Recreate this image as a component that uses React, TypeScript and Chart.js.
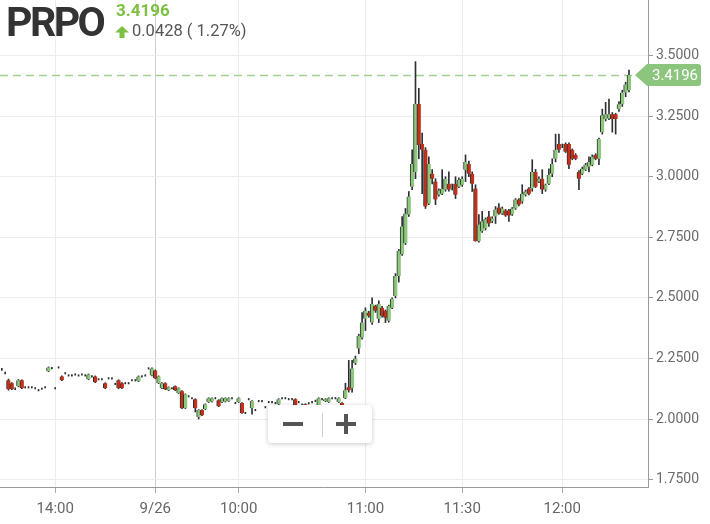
import React, { useEffect, useRef } from "react";
import { Chart, registerables } from "chart.js";

Chart.register(...registerables);

// ---- data (bar index = one trading bar) ----
const opens = [
  2.205, 2.190, 2.160, 2.148, 2.125, 2.135, 2.160, 2.131, 2.131, 2.131,
  2.127, 2.119, 2.125, 2.131, 2.197, 2.210, 2.127, 2.213, 2.176, 2.189,
  2.180, 2.180, 2.184, 2.180, 2.184, 2.180, 2.164, 2.176, 2.176, 2.164,
  2.164, 2.148, 2.168, 2.168, 2.145, 2.160, 2.148, 2.148, 2.148, 2.160,
  2.160, 2.156, 2.176, 2.180, 2.209, 2.180, 2.200, 2.148, 2.127, 2.148,
  2.119, 2.127, 2.135, 2.107, 2.115, 2.045, 2.094, 2.086, 2.082, 2.008,
  2.037, 2.041, 2.070, 2.072, 2.086, 2.078, 2.070, 2.072, 2.074, 2.086,
  2.066, 2.070, 2.066, 2.025, 2.082, 2.045, 2.037, 2.074, 2.074, 2.049,
  2.070, 2.070, 2.066, 2.061, 2.086, 2.086, 2.082, 2.082, 2.082, 2.070,
  2.060, 2.061, 2.065, 2.070, 2.075, 2.053, 2.082, 2.074, 2.070, 2.086,
  2.086, 2.070, 2.066, 2.086, 2.131, 2.127, 2.230, 2.291, 2.336, 2.414,
  2.439, 2.398, 2.467, 2.414, 2.459, 2.447, 2.406, 2.459, 2.508, 2.590,
  2.680, 2.725, 2.844, 2.959, 3.020, 3.300, 3.135, 3.111, 2.889, 3.012,
  2.980, 2.926, 2.930, 2.947, 2.971, 2.955, 2.971, 2.959, 2.967, 3.029,
  3.053, 3.012, 2.951, 2.734, 2.775, 2.787, 2.836, 2.816, 2.836, 2.873,
  2.848, 2.861, 2.861, 2.844, 2.869, 2.906, 2.898, 2.926, 2.951, 2.951,
  3.020, 2.980, 2.992, 2.947, 2.971, 3.012, 3.074, 3.135, 3.125, 3.135,
  3.135, 3.111, 3.090, 3.020, 3.012, 3.029, 3.041, 3.049, 3.090, 3.074,
  3.184, 3.238, 3.240, 3.258, 3.258, 3.279, 3.299, 3.348, 3.357,
];
const highs = [
  2.209, 2.194, 2.165, 2.150, 2.129, 2.163, 2.162, 2.134, 2.134, 2.134,
  2.130, 2.122, 2.128, 2.134, 2.215, 2.213, 2.130, 2.216, 2.178, 2.192,
  2.183, 2.183, 2.187, 2.183, 2.187, 2.183, 2.186, 2.179, 2.178, 2.167,
  2.167, 2.150, 2.171, 2.171, 2.148, 2.162, 2.150, 2.151, 2.151, 2.163,
  2.163, 2.178, 2.179, 2.183, 2.212, 2.211, 2.203, 2.178, 2.150, 2.150,
  2.133, 2.130, 2.137, 2.129, 2.117, 2.104, 2.097, 2.089, 2.084, 2.039,
  2.039, 2.063, 2.088, 2.088, 2.089, 2.080, 2.088, 2.088, 2.088, 2.089,
  2.069, 2.088, 2.068, 2.028, 2.085, 2.076, 2.040, 2.077, 2.077, 2.052,
  2.073, 2.073, 2.069, 2.084, 2.089, 2.089, 2.085, 2.085, 2.084, 2.073,
  2.063, 2.063, 2.068, 2.073, 2.078, 2.088, 2.085, 2.084, 2.088, 2.089,
  2.089, 2.088, 2.068, 2.148, 2.242, 2.242, 2.260, 2.350, 2.439, 2.459,
  2.445, 2.500, 2.470, 2.488, 2.465, 2.450, 2.470, 2.500, 2.600, 2.700,
  2.836, 2.869, 2.939, 3.111, 3.475, 3.365, 3.180, 3.120, 3.082, 3.030,
  2.992, 2.950, 3.029, 3.000, 3.020, 2.970, 3.000, 2.995, 3.000, 3.090,
  3.065, 3.020, 2.967, 2.844, 2.857, 2.830, 2.857, 2.835, 2.877, 2.889,
  2.875, 2.865, 2.865, 2.873, 2.910, 2.910, 2.967, 2.945, 2.955, 3.070,
  3.030, 3.000, 3.029, 2.970, 3.033, 3.074, 3.176, 3.176, 3.135, 3.140,
  3.140, 3.115, 3.095, 3.025, 3.040, 3.055, 3.082, 3.090, 3.095, 3.160,
  3.279, 3.307, 3.320, 3.265, 3.262, 3.310, 3.357, 3.390, 3.440,
];
const lows = [
  2.201, 2.186, 2.119, 2.121, 2.121, 2.133, 2.125, 2.128, 2.128, 2.128,
  2.124, 2.116, 2.122, 2.128, 2.195, 2.207, 2.124, 2.210, 2.158, 2.186,
  2.177, 2.177, 2.181, 2.177, 2.181, 2.177, 2.162, 2.173, 2.150, 2.161,
  2.161, 2.125, 2.165, 2.165, 2.142, 2.125, 2.125, 2.145, 2.145, 2.157,
  2.157, 2.154, 2.173, 2.177, 2.206, 2.178, 2.166, 2.146, 2.125, 2.121,
  2.117, 2.124, 2.117, 2.105, 2.043, 2.043, 2.091, 2.083, 2.029, 2.000,
  2.014, 2.039, 2.068, 2.070, 2.083, 2.051, 2.068, 2.070, 2.072, 2.083,
  2.063, 2.068, 2.023, 2.022, 2.079, 2.020, 2.034, 2.071, 2.071, 2.046,
  2.067, 2.067, 2.063, 2.059, 2.083, 2.083, 2.079, 2.079, 2.051, 2.067,
  2.057, 2.051, 2.062, 2.067, 2.072, 2.051, 2.079, 2.072, 2.068, 2.083,
  2.083, 2.068, 2.047, 2.084, 2.111, 2.111, 2.225, 2.270, 2.330, 2.365,
  2.420, 2.390, 2.440, 2.398, 2.420, 2.398, 2.400, 2.455, 2.500, 2.565,
  2.675, 2.720, 2.836, 2.947, 2.992, 3.074, 2.930, 2.869, 2.885, 2.970,
  2.885, 2.920, 2.926, 2.940, 2.940, 2.945, 2.910, 2.955, 2.960, 2.980,
  3.000, 2.939, 2.734, 2.730, 2.770, 2.780, 2.795, 2.810, 2.807, 2.844,
  2.844, 2.836, 2.816, 2.840, 2.865, 2.880, 2.890, 2.920, 2.925, 2.940,
  2.955, 2.975, 2.930, 2.940, 2.967, 3.000, 3.061, 3.100, 3.120, 3.100,
  3.033, 3.070, 3.070, 2.947, 3.008, 3.025, 3.020, 3.045, 3.070, 3.050,
  3.176, 3.230, 3.235, 3.184, 3.176, 3.270, 3.290, 3.330, 3.350,
];
const closes = [
  2.205, 2.190, 2.123, 2.123, 2.125, 2.160, 2.127, 2.131, 2.131, 2.131,
  2.127, 2.119, 2.125, 2.131, 2.213, 2.210, 2.127, 2.213, 2.160, 2.189,
  2.180, 2.180, 2.184, 2.180, 2.184, 2.180, 2.184, 2.176, 2.152, 2.164,
  2.164, 2.127, 2.168, 2.168, 2.145, 2.127, 2.127, 2.148, 2.148, 2.160,
  2.160, 2.176, 2.176, 2.180, 2.209, 2.209, 2.168, 2.176, 2.148, 2.123,
  2.131, 2.127, 2.119, 2.127, 2.045, 2.102, 2.094, 2.086, 2.045, 2.037,
  2.016, 2.061, 2.086, 2.086, 2.086, 2.053, 2.086, 2.086, 2.086, 2.086,
  2.066, 2.086, 2.025, 2.025, 2.082, 2.074, 2.037, 2.074, 2.074, 2.049,
  2.070, 2.070, 2.066, 2.082, 2.086, 2.086, 2.082, 2.082, 2.053, 2.070,
  2.060, 2.053, 2.065, 2.070, 2.075, 2.086, 2.082, 2.082, 2.086, 2.086,
  2.086, 2.086, 2.049, 2.119, 2.119, 2.209, 2.250, 2.344, 2.398, 2.447,
  2.426, 2.475, 2.447, 2.475, 2.426, 2.418, 2.467, 2.496, 2.590, 2.693,
  2.795, 2.848, 2.918, 3.053, 3.300, 3.131, 3.111, 2.877, 3.053, 2.992,
  2.906, 2.943, 2.950, 2.992, 2.947, 2.955, 2.926, 2.988, 2.992, 3.061,
  3.012, 2.971, 2.734, 2.803, 2.816, 2.824, 2.807, 2.828, 2.865, 2.848,
  2.869, 2.840, 2.840, 2.869, 2.906, 2.885, 2.930, 2.939, 2.930, 3.020,
  2.959, 2.992, 2.947, 2.967, 3.008, 3.053, 3.111, 3.111, 3.125, 3.103,
  3.049, 3.074, 3.074, 2.992, 3.033, 3.049, 3.061, 3.082, 3.074, 3.156,
  3.254, 3.258, 3.258, 3.238, 3.238, 3.299, 3.348, 3.381, 3.4196,
];

const tickIndex = [16, 46, 71, 109, 138, 168];
const tickLabels = ["14:00", "9/26", "10:00", "11:00", "11:30", "12:00"];
const dayBreakIndex = 46;
const yTicks = [1.75, 2.0, 2.25, 2.5, 2.75, 3.0, 3.25, 3.5, 3.75];
const symbol = "PRPO";
const lastPrice = 3.4196;
const changeText = "0.0428 ( 1.27%)";

const X_MIN = -0.55;
const X_MAX = 193.7;
const Y_MIN = 1.7195;
const Y_MAX = 3.75;

const GREEN = "#8cc77b";
const RED = "#c2311a";
const WICK = "#2c2f33";
const TAG = "#8cc67e";

const priceLinePlugin = {
  id: "priceLine",
  beforeDatasetsDraw(chart: any) {
    const { ctx, chartArea, scales } = chart;
    const py = Math.round(scales.y.getPixelForValue(lastPrice)) + 0.5;
    ctx.save();
    ctx.strokeStyle = "#9fd28f";
    ctx.lineWidth = 1.4;
    ctx.setLineDash([8, 5]);
    ctx.beginPath();
    ctx.moveTo(chartArea.left, py);
    ctx.lineTo(chartArea.right - 13, py);
    ctx.stroke();
    ctx.restore();
  },
  afterDraw(chart: any) {
    const { ctx, chartArea, scales } = chart;
    const py = scales.y.getPixelForValue(lastPrice);
    const tip = chartArea.right - 13;
    const left = chartArea.right - 1;
    const right = left + 54;
    const top = py - 11;
    const bottom = py + 11;
    const r = 3;
    ctx.save();
    ctx.fillStyle = TAG;
    ctx.beginPath();
    ctx.moveTo(tip, py);
    ctx.lineTo(left, top);
    ctx.lineTo(right - r, top);
    ctx.arcTo(right, top, right, top + r, r);
    ctx.lineTo(right, bottom - r);
    ctx.arcTo(right, bottom, right - r, bottom, r);
    ctx.lineTo(left, bottom);
    ctx.closePath();
    ctx.fill();
    ctx.fillStyle = "#ffffff";
    ctx.font = "15px Roboto";
    ctx.textAlign = "center";
    ctx.textBaseline = "middle";
    ctx.fillText(lastPrice.toFixed(4), (left + right) / 2 + 1, py + 1);
    ctx.restore();
  },
};

export default function App() {
  const ref = useRef<HTMLCanvasElement>(null);

  useEffect(() => {
    const bodies = opens.map((o, i) => ({ x: i, y: [o, closes[i]] }));
    const wicks = lows.map((l, i) => ({ x: i, y: [l, highs[i]] }));
    const bodyColors = opens.map((o, i) => (closes[i] >= o ? GREEN : RED));

    const chart = new Chart(ref.current as HTMLCanvasElement, {
      type: "bar",
      data: {
        datasets: [
          {
            label: "body",
            data: bodies as any,
            backgroundColor: bodyColors,
            borderColor: WICK,
            borderWidth: { left: 1, right: 0, top: 0, bottom: 0 } as any,
            borderSkipped: false,
            barThickness: 4,
            grouped: false,
            order: 0,
          },
          {
            label: "wick",
            data: wicks as any,
            backgroundColor: WICK,
            borderWidth: 0,
            barThickness: 1,
            grouped: false,
            order: 1,
          },
        ],
      },
      options: {
        animation: false,
        responsive: false,
        maintainAspectRatio: false,
        layout: { padding: 0 },
        plugins: {
          legend: { display: false },
          tooltip: { enabled: false },
        },
        scales: {
          x: {
            type: "linear",
            min: X_MIN,
            max: X_MAX,
            offset: false,
            afterBuildTicks: (s: any) => {
              s.ticks = tickIndex.map((v) => ({ value: v }));
            },
            afterFit: (s: any) => {
              s.height = 37;
              s.paddingLeft = 0;
              s.paddingRight = 0;
            },
            ticks: {
              autoSkip: false,
              maxRotation: 0,
              color: "#666",
              font: { family: "Roboto", size: 15 },
              padding: 7,
              callback: (v: any) => {
                const k = tickIndex.indexOf(Number(v));
                return k >= 0 ? tickLabels[k] : "";
              },
            },
            grid: {
              offset: false,
              color: (c: any) =>
                c.tick && c.tick.value === dayBreakIndex ? "#cdcdcd" : "#ececec",
              tickColor: "#aaaaaa",
              tickLength: 6,
            },
            border: { display: true, color: "#9a9a9a" },
          },
          y: {
            position: "right",
            min: Y_MIN,
            max: Y_MAX,
            afterBuildTicks: (s: any) => {
              s.ticks = yTicks.map((v) => ({ value: v }));
            },
            afterFit: (s: any) => {
              s.width = 62;
              s.paddingTop = 0;
              s.paddingBottom = 0;
            },
            ticks: {
              color: "#6b6b6b",
              font: { family: "Roboto", size: 14 },
              padding: 3,
              callback: (v: any) => Number(v).toFixed(4),
            },
            grid: { color: "#ededed", tickColor: "#9a9a9a", tickLength: 5 },
            border: { display: true, color: "#9a9a9a" },
          },
        },
      },
      plugins: [priceLinePlugin],
    } as any);

    return () => chart.destroy();
  }, []);

  return (
    <div
      style={{
        position: "fixed",
        left: 0,
        top: 0,
        width: 710,
        height: 524,
        overflow: "hidden",
        background: "#ffffff",
        fontFamily: "Roboto, sans-serif",
      }}
    >
      <div style={{ position: "absolute", left: 0, top: -5, width: 710, height: 529 }}>
        <canvas
          ref={ref}
          width={710}
          height={529}
          style={{ width: 710, height: 529, display: "block" }}
        />
      </div>

      <div
        style={{
          position: "absolute",
          left: 6,
          top: 2,
          fontSize: 41,
          lineHeight: "41px",
          fontWeight: 700,
          color: "#333333",
          letterSpacing: "-2.5px",
          whiteSpace: "nowrap",
        }}
      >
        {symbol}
      </div>
      <div
        style={{
          position: "absolute",
          left: 116,
          top: 2,
          fontSize: 17,
          lineHeight: "17px",
          fontWeight: 700,
          color: "#7cc143",
          whiteSpace: "nowrap",
        }}
      >
        {lastPrice.toFixed(4)}
      </div>
      <svg
        width={14}
        height={12}
        viewBox="0 0 14 12"
        style={{ position: "absolute", left: 115, top: 26 }}
      >
        <polygon points="7,0 14,6.5 9.5,6.5 9.5,12 4.5,12 4.5,6.5 0,6.5" fill="#7cc143" />
      </svg>
      <div
        style={{
          position: "absolute",
          left: 132,
          top: 23,
          fontSize: 16.5,
          lineHeight: "16.5px",
          color: "#555555",
          whiteSpace: "nowrap",
        }}
      >
        {changeText}
      </div>

      <div
        style={{
          position: "absolute",
          left: 268,
          top: 405,
          width: 104,
          height: 38,
          background: "#ffffff",
          borderRadius: 4,
          boxShadow: "0 1px 5px rgba(0,0,0,0.22)",
        }}
      >
        <div
          style={{ position: "absolute", left: 15, top: 17, width: 20, height: 4, background: "#555" }}
        />
        <div
          style={{ position: "absolute", left: 54, top: 8, width: 1, height: 24, background: "#cfcfcf" }}
        />
        <div
          style={{ position: "absolute", left: 68, top: 17, width: 20, height: 4, background: "#555" }}
        />
        <div
          style={{ position: "absolute", left: 76, top: 9, width: 4, height: 20, background: "#555" }}
        />
      </div>
    </div>
  );
}
